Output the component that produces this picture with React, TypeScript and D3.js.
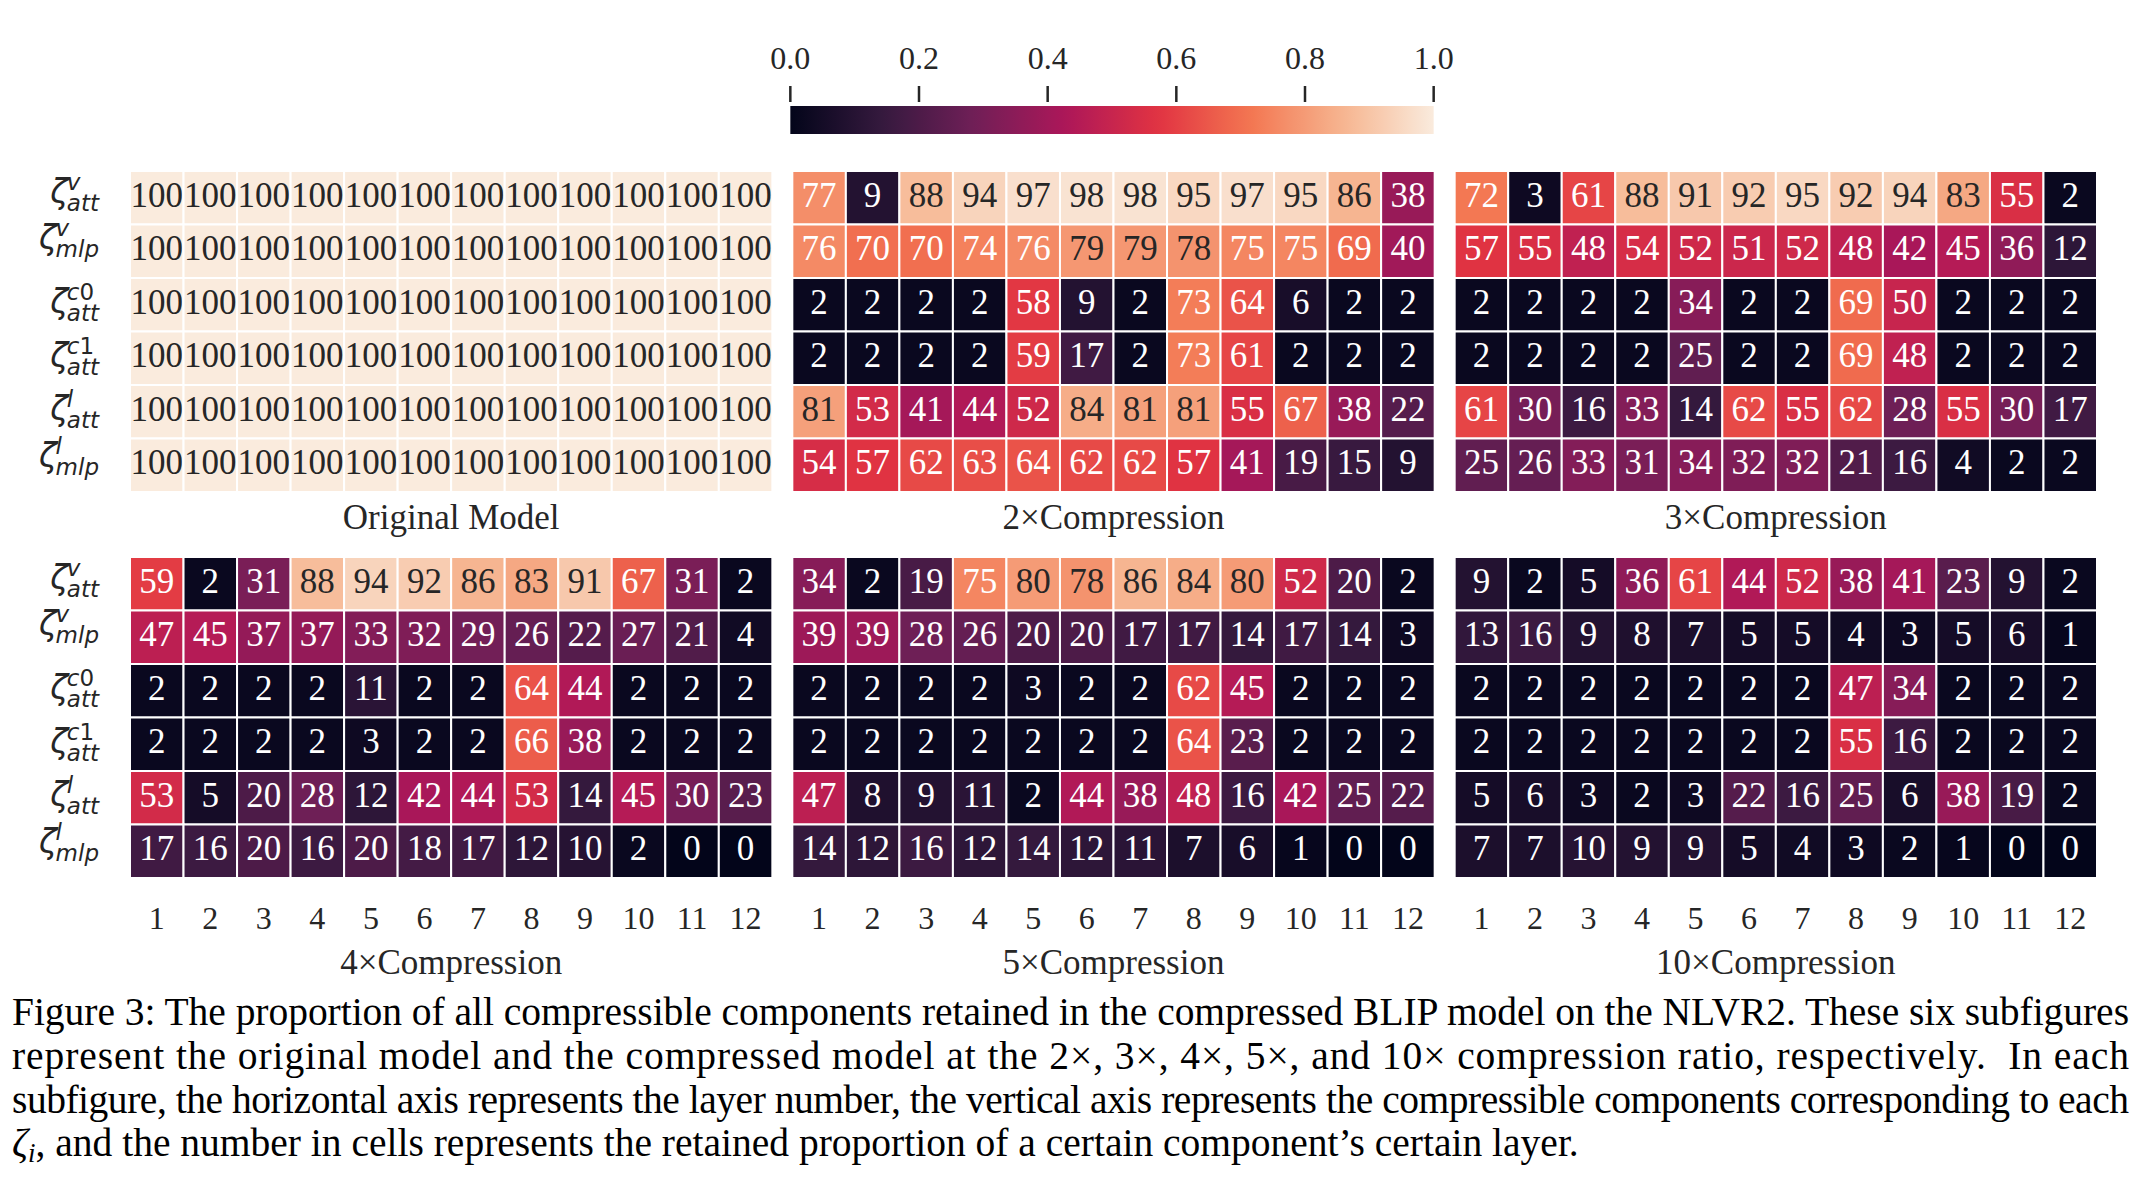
import * as d3 from "d3";
import React from "react";

// layers (x) and compressible components (y)
const layers = [1, 2, 3, 4, 5, 6, 7, 8, 9, 10, 11, 12];
const supLabels = ["v", "v", "c0", "c1", "l", "l"];
const subLabels = ["att", "mlp", "att", "att", "att", "mlp"];

const panelTitles = [
  "Original Model",
  "2×Compression",
  "3×Compression",
  "4×Compression",
  "5×Compression",
  "10×Compression",
];

// retained proportion (%) per component (row) and layer (column)
const originalModel = [
  [100, 100, 100, 100, 100, 100, 100, 100, 100, 100, 100, 100],
  [100, 100, 100, 100, 100, 100, 100, 100, 100, 100, 100, 100],
  [100, 100, 100, 100, 100, 100, 100, 100, 100, 100, 100, 100],
  [100, 100, 100, 100, 100, 100, 100, 100, 100, 100, 100, 100],
  [100, 100, 100, 100, 100, 100, 100, 100, 100, 100, 100, 100],
  [100, 100, 100, 100, 100, 100, 100, 100, 100, 100, 100, 100],
];
const compress2x = [
  [77, 9, 88, 94, 97, 98, 98, 95, 97, 95, 86, 38],
  [76, 70, 70, 74, 76, 79, 79, 78, 75, 75, 69, 40],
  [2, 2, 2, 2, 58, 9, 2, 73, 64, 6, 2, 2],
  [2, 2, 2, 2, 59, 17, 2, 73, 61, 2, 2, 2],
  [81, 53, 41, 44, 52, 84, 81, 81, 55, 67, 38, 22],
  [54, 57, 62, 63, 64, 62, 62, 57, 41, 19, 15, 9],
];
const compress3x = [
  [72, 3, 61, 88, 91, 92, 95, 92, 94, 83, 55, 2],
  [57, 55, 48, 54, 52, 51, 52, 48, 42, 45, 36, 12],
  [2, 2, 2, 2, 34, 2, 2, 69, 50, 2, 2, 2],
  [2, 2, 2, 2, 25, 2, 2, 69, 48, 2, 2, 2],
  [61, 30, 16, 33, 14, 62, 55, 62, 28, 55, 30, 17],
  [25, 26, 33, 31, 34, 32, 32, 21, 16, 4, 2, 2],
];
const compress4x = [
  [59, 2, 31, 88, 94, 92, 86, 83, 91, 67, 31, 2],
  [47, 45, 37, 37, 33, 32, 29, 26, 22, 27, 21, 4],
  [2, 2, 2, 2, 11, 2, 2, 64, 44, 2, 2, 2],
  [2, 2, 2, 2, 3, 2, 2, 66, 38, 2, 2, 2],
  [53, 5, 20, 28, 12, 42, 44, 53, 14, 45, 30, 23],
  [17, 16, 20, 16, 20, 18, 17, 12, 10, 2, 0, 0],
];
const compress5x = [
  [34, 2, 19, 75, 80, 78, 86, 84, 80, 52, 20, 2],
  [39, 39, 28, 26, 20, 20, 17, 17, 14, 17, 14, 3],
  [2, 2, 2, 2, 3, 2, 2, 62, 45, 2, 2, 2],
  [2, 2, 2, 2, 2, 2, 2, 64, 23, 2, 2, 2],
  [47, 8, 9, 11, 2, 44, 38, 48, 16, 42, 25, 22],
  [14, 12, 16, 12, 14, 12, 11, 7, 6, 1, 0, 0],
];
const compress10x = [
  [9, 2, 5, 36, 61, 44, 52, 38, 41, 23, 9, 2],
  [13, 16, 9, 8, 7, 5, 5, 4, 3, 5, 6, 1],
  [2, 2, 2, 2, 2, 2, 2, 47, 34, 2, 2, 2],
  [2, 2, 2, 2, 2, 2, 2, 55, 16, 2, 2, 2],
  [5, 6, 3, 2, 3, 22, 16, 25, 6, 38, 19, 2],
  [7, 7, 10, 9, 9, 5, 4, 3, 2, 1, 0, 0],
];
const panels = [originalModel, compress2x, compress3x, compress4x, compress5x, compress10x];

const colorbarTicks = [0, 0.2, 0.4, 0.6, 0.8, 1.0];

// seaborn "rocket" sampled at 0, 1/7 ... 6/7, 1
const rocketColors = [
  "#03051a", "#35193e", "#701f57", "#ad1759",
  "#e13342", "#f37651", "#f6b48f", "#faebdd",
];

const captionLines = [
  "Figure 3: The proportion of all compressible components retained in the compressed BLIP model on the NLVR2. These six subfigures",
  "represent the original model and the compressed model at the 2×, 3×, 4×, 5×, and 10× compression ratio, respectively.  In each",
  "subfigure, the horizontal axis represents the layer number, the vertical axis represents the compressible components corresponding to each",
  ", and the number in cells represents the retained proportion of a certain component’s certain layer.",
];

// DejaVu Sans Oblique advance widths (em) for the subscript letters
const charWidth: Record<string, number> = { a: 0.613, t: 0.392, m: 0.974, l: 0.278, p: 0.635 };

const ink = "#262626";

function textColor(fill: string) {
  const { r, g, b } = d3.rgb(fill);
  const lin = (v: number) => {
    v /= 255;
    return v <= 0.03928 ? v / 12.92 : Math.pow((v + 0.055) / 1.055, 2.4);
  };
  const lum = 0.2126 * lin(r) + 0.7152 * lin(g) + 0.0722 * lin(b);
  return lum > 0.408 ? ink : "#ffffff";
}

function RowLabel({ yc, sup, sub }: { yc: number; sup: string; sub: string }) {
  const labelRight = 99;
  const scriptSize = 23;
  const zetaSize = 33;
  // matplotlib centres the label's bbox, so tall superscripts / descenders shift it
  const shift = (/[0-9bdfhklt]/.test(sup) ? 3.5 : 0) + (/[gjpqy]/.test(sub) ? -7 : 0);
  const subW = sub.split("").reduce((s, ch) => s + (charWidth[ch] ?? 0.6) * scriptSize, 0);
  const x0 = labelRight - subW;
  return (
    <text fill={ink} fontFamily="DejaVu Sans" fontSize={scriptSize}>
      <tspan x={x0 - 0.5 * zetaSize} y={yc + 5 + shift} fontSize={zetaSize} fontStyle="italic">
        ζ
      </tspan>
      <tspan x={x0} y={yc - 8 + shift}>
        {sup.split("").map((ch, i) => (
          <tspan key={i} fontStyle={/[0-9]/.test(ch) ? "normal" : "italic"}>
            {ch}
          </tspan>
        ))}
      </tspan>
      <tspan x={x0} y={yc + 13 + shift} fontStyle="italic">
        {sub}
      </tspan>
    </text>
  );
}

export default function App() {
  const width = 2144;
  const height = 1180;
  const gridLeft = 130;
  const gridRight = 2097;
  const panelGap = 20;
  const panelWidth = (gridRight - gridLeft - 2 * panelGap) / 3;
  const panelHeight = 321;
  const rowTops = [171, 557];

  const x = d3.scaleBand<number>().domain(layers).range([0, panelWidth]);
  const y = d3.scaleBand<number>().domain(d3.range(supLabels.length)).range([0, panelHeight]);

  const color = d3
    .scaleLinear<string>()
    .domain(rocketColors.map((_, i) => i / (rocketColors.length - 1)))
    .range(rocketColors)
    .interpolate(d3.interpolateRgb)
    .clamp(true);

  // colorbar sits above the middle panel
  const cbLeft = gridLeft + panelWidth + panelGap - 2;
  const cbX = d3.scaleLinear().domain([0, 1]).range([cbLeft, cbLeft + panelWidth + 1]);
  const cbTop = 106;
  const cbHeight = 28;
  const gradStops = d3.range(0, 1.0001, 0.02);

  const captionLeft = 12;
  const captionRight = 2129;
  const captionBaselines = [1025, 1069, 1113, 1156];

  return (
    <>
      <style>{"body{margin:0}"}</style>
      <svg width={width} height={height} style={{ display: "block", background: "#fff" }}>
        <defs>
          <linearGradient id="rocket" x1="0" x2="1" y1="0" y2="0">
            {gradStops.map((t) => (
              <stop key={t} offset={t} stopColor={color(t)} />
            ))}
          </linearGradient>
        </defs>

        {/* colorbar */}
        <g fontFamily="Liberation Serif" fontSize={32} fill={ink} textAnchor="middle">
          <rect x={cbX(0)} y={cbTop} width={cbX(1) - cbX(0)} height={cbHeight} fill="url(#rocket)" />
          {colorbarTicks.map((t) => (
            <g key={t} transform={`translate(${cbX(t)},0)`}>
              <line y1={86} y2={102} stroke={ink} strokeWidth={2.5} />
              <text y={69}>{t.toFixed(1)}</text>
            </g>
          ))}
        </g>

        {/* heatmaps */}
        {panels.map((data, p) => {
          const col = p % 3;
          const row = Math.floor(p / 3);
          const left = gridLeft + col * (panelWidth + panelGap);
          const top = rowTops[row];
          return (
            <g key={p} transform={`translate(${left},${top})`}>
              {data.map((vals, r) =>
                vals.map((v, c) => {
                  const fill = color(v / 100);
                  return (
                    <g key={`${r}-${c}`}>
                      <rect
                        x={x(layers[c])}
                        y={y(r)}
                        width={x.bandwidth()}
                        height={y.bandwidth()}
                        fill={fill}
                        stroke="#fff"
                        strokeWidth={2}
                      />
                      <text
                        x={(x(layers[c]) ?? 0) + x.bandwidth() / 2}
                        y={(y(r) ?? 0) + y.bandwidth() / 2}
                        dy="0.25em"
                        textAnchor="middle"
                        fontFamily="Liberation Serif"
                        fontSize={35}
                        fill={textColor(fill)}
                      >
                        {v}
                      </text>
                    </g>
                  );
                })
              )}
              {row === 1 &&
                layers.map((l) => (
                  <text
                    key={l}
                    x={(x(l) ?? 0) + x.bandwidth() / 2}
                    y={panelHeight + 51}
                    textAnchor="middle"
                    fontFamily="Liberation Serif"
                    fontSize={32}
                    fill={ink}
                  >
                    {l}
                  </text>
                ))}
              <text
                x={panelWidth / 2}
                y={panelHeight + (row === 0 ? 37 : 96)}
                textAnchor="middle"
                fontFamily="Liberation Serif"
                fontSize={35}
                fill={ink}
              >
                {panelTitles[p]}
              </text>
            </g>
          );
        })}

        {/* row labels */}
        {rowTops.map((top) =>
          supLabels.map((sup, r) => (
            <RowLabel
              key={`${top}-${r}`}
              yc={top + (y(r) ?? 0) + y.bandwidth() / 2}
              sup={sup}
              sub={subLabels[r]}
            />
          ))
        )}

        {/* caption */}
        <g fontFamily="Liberation Serif" fontSize={39.5} fill="#000">
          {captionLines.map((line, i) =>
            i < captionLines.length - 1 ? (
              <text
                key={i}
                x={captionLeft}
                y={captionBaselines[i]}
                textLength={captionRight - captionLeft}
                lengthAdjust="spacing"
                style={{ whiteSpace: "pre" }}
              >
                {line}
              </text>
            ) : (
              <text key={i} x={captionLeft} y={captionBaselines[i]}>
                <tspan fontStyle="italic">ζ</tspan>
                <tspan fontStyle="italic" fontSize={27} dy={6}>
                  i
                </tspan>
                <tspan dy={-6}>{line}</tspan>
              </text>
            )
          )}
        </g>
      </svg>
    </>
  );
}
